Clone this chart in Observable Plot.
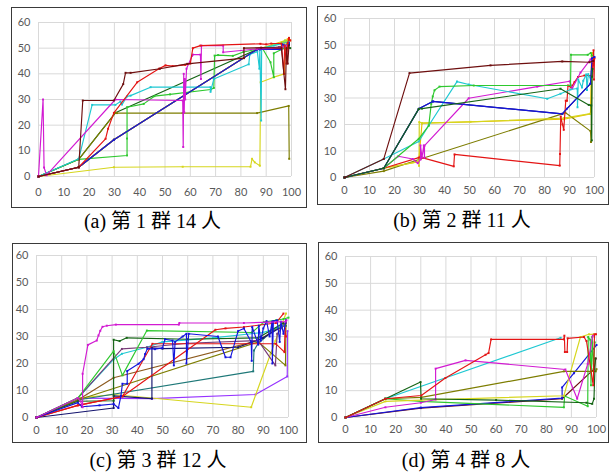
<!DOCTYPE html>
<html><head><meta charset="utf-8">
<script src="https://cdn.jsdelivr.net/npm/d3@7"></script>
<script src="https://cdn.jsdelivr.net/npm/@observablehq/plot@0.6"></script>
<style>
html,body{margin:0;padding:0;background:#fff;}
body{width:613px;height:472px;position:relative;overflow:hidden;}
.box{position:absolute;border:1.6px solid #3a3a3a;box-sizing:border-box;}
.plot{position:absolute;}
.cap{position:absolute;transform:translate(-50%,-50%);font-family:"Liberation Serif","Noto Sans CJK TC",serif;font-size:20px;color:#000;white-space:nowrap;}
</style>
</head><body>
<script>
// ---------- tick labels ----------
const xTicks = [0,10,20,30,40,50,60,70,80,90,100];
const yTicks = [0,10,20,30,40,50,60];
const captions = ["(a) 第 1 群 14 人","(b) 第 2 群 11 人","(c) 第 3 群 12 人","(d) 第 4 群 8 人"];

// ---------- group 1 (a) ----------
const a_navy = [[0,0],[15.9,3.6],[29.8,14.3],[86.4,49.5],[97,50],[98,49],[99,51.5]];
const a_orange = [[0,0],[15.9,3.6],[29.8,14.3],[86.4,49.5],[97,52],[98.5,53.5],[99.5,53]];
const a_gold = [[0,0],[15.9,3.6],[29.8,14.3],[86.4,49.5],[97.5,53],[98,52],[99,54]];
const a_lime = [[0,0],[15.9,3.6],[29.8,14.3],[86.4,49.5],[96,52],[97.5,53],[99,52.5]];
const a_darkgreen = [[0,0],[15.9,6.7],[30.4,24.8],[86.4,49.5],[96,50],[98,50.5],[99.5,50]];
const a_purple = [[0,0],[15.9,3.6],[29.8,14.3],[86.4,49.5],[95,50.5],[97,51],[98.5,50]];
const a_yellow = [[0,0],[29.8,3.6],[57,3.8],[83.8,3.8],[84.4,6.9],[85.5,5.5],[87.5,4.2],[87.8,36.7],[93,38.7],[97.2,40],[97.5,50],[99,53]];
const a_olive = [[0,0],[15.9,6.7],[30.4,24.8],[31,24.7],[57,24.7],[86.4,24.7],[98.9,27.5],[99.1,6.9]];
const a_green = [[0,0],[15.9,6.7],[35,8.2],[35,14.8],[35,27],[41.6,28.3],[45.8,31.3],[52,32],[68.1,33.9],[69.3,34.5],[69.6,47.1],[71,47.3],[76.8,47],[81,48.5],[88.5,50],[91.7,44.5],[93,38.7],[93,48],[97,50],[99,52.5]];
const a_cyan = [[0,0],[15.9,6.9],[21.2,27.9],[30.4,27.9],[32.4,29.2],[33,28],[35,31.2],[36.4,31.5],[44.3,34.8],[68,34.8],[68,33],[69.3,38],[83.1,43.7],[83.5,47.5],[86.5,48.7],[87.3,42],[87.5,49.5],[88,21.8],[88.2,50],[93,51],[99,52.5]];
const a_blue = [[0,0],[15.9,3.6],[29.8,14.3],[86.4,49.5],[87.5,49.5],[96,49.5],[96.2,51.5],[98.5,51],[99,52]];
const a_magenta = [[0,0],[1.8,30],[2.2,3.5],[3.2,0.5],[30.4,30],[57,29.6],[57.2,11.5],[57.4,40],[57.6,25],[57.8,38],[58,30],[58.5,42],[60.7,47],[61,47.5],[64,47.5],[64.2,38],[64.4,51],[73,51],[73,48.4],[86.4,49.7],[96,50],[98,51]];
const a_red = [[0,0],[15.9,3.6],[26.5,14.7],[27.5,18.6],[29.8,24.8],[39,36.7],[47.6,42],[50.2,43.3],[53,43],[58,43.5],[60,44],[61,50],[64,51],[87.7,51.7],[90,51.5],[92,51.8],[96,51.8],[97,40],[97.3,51],[98,44],[98.5,52],[99,54],[99.5,53]];
const a_maroon = [[0,0],[15.9,3.6],[17.5,29.6],[29.8,29.6],[33.5,36],[34.4,40.4],[36.4,40.4],[48,42],[58.8,43.9],[81.2,46.1],[81.2,50],[88,50.2],[96,50],[97.6,34],[98,50],[98.5,44],[99,51]];
const seriesA = [["navy",a_navy],["orange",a_orange],["gold",a_gold],["lime",a_lime],["darkgreen",a_darkgreen],["purple",a_purple],
  ["yellow",a_yellow],["olive",a_olive],["green",a_green],["cyan",a_cyan],["blue",a_blue],["magenta",a_magenta],["red",a_red],["maroon",a_maroon]];

// ---------- group 2 (b) ----------
const b_navy = [[0,0],[15.7,3.5],[29.7,25.9],[35.3,28.7],[87.1,24],[98.4,35.4],[99,43]];
const b_gold = [[0,0],[15.7,3.5],[29.7,6],[31,20.5],[87.7,22],[98.4,24],[98.8,46],[99.2,47]];
const b_olive = [[0,0],[15.7,2.4],[30.4,7],[87.1,24],[88.3,24.5],[98.4,17.5],[98.6,13.4],[99,42]];
const b_yellow = [[0,0],[15.7,3.5],[29.7,6],[29.8,4.4],[29.9,20.9],[31,20.5],[50.4,21],[87.7,22.4],[98.4,24.1]];
const b_red = [[0,0],[15.7,3.5],[29.7,7.5],[30.5,8],[31,7.5],[43.7,4.2],[44,8.7],[86.1,4.5],[86.2,8.9],[86.5,23],[87.2,20],[87.7,18],[88.5,29],[89,29],[89.4,34.7],[90.7,34],[92,36],[93.4,37.9],[96,38.5],[99,38.5],[99.6,48],[99.8,37],[100,45]];
const b_magenta = [[0,0],[15.7,3.5],[21.5,8],[27.3,7],[29.3,5.4],[30.4,6.8],[30.4,12.1],[31,7.5],[31.7,12.1],[32,7.5],[32,12],[49.7,29.9],[77.1,34.3],[90.1,36.3],[91.1,33.6],[94.4,39.6],[98.4,44.6],[99,44]];
const b_cyan = [[0,0],[15.7,7],[29.7,13.6],[33.7,19.6],[45,36.2],[49.7,35.1],[81.1,29.7],[86.4,31.6],[90.4,33.2],[93.1,33.6],[93.2,26.5],[93.5,37],[95,34],[95.5,36.5],[96.7,38.9],[97,33],[97.5,39],[98.5,37],[99,40]];
const b_green = [[0,0],[15.7,3.5],[29.7,14.6],[33.7,19.6],[34.7,27.8],[35.3,30.6],[36,32.9],[38,34.3],[51.7,34.7],[90.4,34.7],[90.6,46.3],[97.3,46.3],[98.5,47],[99,46]];
const b_blue = [[0,0],[15.7,3.5],[29.7,25.9],[35.3,28.7],[87.1,24],[89,26],[98.4,35.4],[99,45],[100,45.5]];
const b_darkgreen = [[0,0],[15.7,3.5],[29.7,25.9],[31,26],[86.4,33.5],[97.7,27.4],[98.7,27.2],[98.9,14],[99,38],[99.2,41]];
const b_maroon = [[0,0],[15.7,7],[26,39.4],[58.4,42.3],[87.1,43.8],[98,43.5],[99.5,44]];
const seriesB = [["navy",b_navy],["gold",b_gold],["olive",b_olive],["yellow",b_yellow],["red",b_red],["magenta",b_magenta],
  ["cyan",b_cyan],["green",b_green],["blue",b_blue],["darkgreen",b_darkgreen],["maroon",b_maroon]];

// ---------- group 3 (c) ----------
const c_violet = [[0,0],[16.4,7.2],[45.8,7],[86.9,8.5],[99.5,15.2],[99.6,32]];
const c_yellow = [[0,0],[16.4,7.2],[30.6,8.5],[85.2,3.8],[92.9,23.6],[94.8,28.4],[99,38.5]];
const c_teal = [[0,0],[16.4,6.5],[86,17.1],[86.3,24.8],[88,27.5],[95,33],[99,34]];
const c_olive = [[0,0],[16.4,6.5],[88,28],[98.8,19.3],[99,35]];
const c_brown = [[0,0],[16.4,6.5],[30.6,14.7],[88,28.5],[99,35]];
const c_navy = [[0,0],[30.6,3.5],[30.6,8],[45.8,7],[45.8,25.8],[50,25.5],[80,26],[90,29.5],[98,34]];
const c_cyan = [[0,0],[16.4,7.2],[30.6,21.5],[33.9,23.6],[43.8,26],[50,28],[70,29.5],[90,31.5],[98,34]];
const c_purple = [[0,0],[16.4,7.2],[33.9,25.4],[43.8,26],[60,27.5],[88,28.5],[94.8,19.3],[95.5,31],[99,35]];
const c_darkgreen = [[0,0],[16.4,6],[30.6,6.2],[30.6,28.8],[33,28.3],[35.8,29.5],[60,29],[88,29.5],[98,35]];
const c_green = [[0,0],[16.4,7.2],[30.6,24.6],[34.1,15.6],[43.8,32.2],[85.5,31.5],[90.2,35.3],[95,36],[98,36.5],[100,37]];
const c_red = [[0,0],[16.4,4.5],[34.1,7.8],[71,32.5],[75,33],[82.3,33.5],[95,35],[98,38.5]];
const c_red2 = [[0,0],[16.4,4.5],[34.1,7.8],[46,27.3],[95,27.3],[98.4,24.2],[98.6,33],[99,30]];
const c_blue = [[0,0],[16.4,5.5],[18,4],[25,4.5],[30.6,5],[32.5,3.5],[33.5,8],[34.1,12.5],[36,12.5],[36,17.2],[40.5,19.9],[42.5,21.6],[43.1,23.5],[44,25.5],[47,25.3],[50,25.8],[51,29],[54,28.5],[54.5,19.3],[55,28],[58,30],[59.5,31],[59.5,20],[60.4,31],[72,30],[75,22.3],[77,22.3],[80,32],[82.3,33],[85.2,28],[85.4,21],[85.6,33.5],[88,27],[88.2,34],[89,28.5],[90,33],[91.3,35.7],[92.5,30],[93.5,35.5],[93.6,20],[94,35.7],[95.5,36],[96.5,28],[97,35.5],[98,31],[99,36]];
const c_magenta = [[0,0],[16.4,7.2],[17.5,6],[18.3,3.8],[18.3,16.2],[20.4,26.9],[23.9,28.5],[24.6,30.4],[25.3,32.1],[26.2,33.6],[27.9,34],[31.5,34.4],[56.5,34.4],[56.7,35],[82.3,35],[98.8,35.5],[99.2,36]];
const seriesC = [["violet",c_violet],["yellow",c_yellow],["teal",c_teal],["olive",c_olive],["brown",c_brown],["navy",c_navy],["cyan",c_cyan],
  ["purple",c_purple],["darkgreen",c_darkgreen],["green",c_green],["red",c_red],["red",c_red2],["blue",c_blue],["magenta",c_magenta]];

// ---------- group 4 (d) ----------
const d_maroon = [[0,0],[30,3.5],[86.3,7],[99,18],[99.7,22]];
const d_blue = [[0,0],[30,3.7],[86.3,7.2],[86.3,11.2],[91,16.5],[100,27]];
const d_green = [[0,0],[15.9,7],[30,6],[87,3.8],[87.3,8],[96.5,4.2],[96.7,30],[97.5,29],[97.8,12],[98.3,30],[98.8,18],[99.3,28]];
const d_yellow = [[0,0],[15.9,6],[30.2,6.5],[87,8.1],[93.6,30],[97,31],[98.9,31]];
const d_olive = [[0,0],[15.9,7],[30.2,7.5],[87,17.2],[99.7,17.2],[100,18]];
const d_cyan = [[0,0],[15.9,7],[85.7,29.7]];
const d_magenta = [[0,0],[15.9,3.8],[30,5.5],[35.9,6.7],[35.9,18.2],[47.8,21.3],[87.6,17.9],[92.3,7],[96.5,20],[98.5,30.5]];
const d_darkgreen = [[0,0],[15.9,7],[29.9,13.2],[30.1,7],[60,6.5],[96,5.5],[98.3,5.1],[99,7],[99.5,22]];
const d_red = [[0,0],[15.9,7],[30.2,8.2],[39.8,14.7],[55.8,23.4],[57,24],[58,29.1],[87,29.1],[87.2,30.5],[87.4,24.4],[88.3,24.4],[88.5,29.5],[95,30],[96,28.5],[98.7,12],[99.2,31],[99.8,31]];
const seriesD = [["maroon",d_maroon],["blue",d_blue],["green",d_green],["yellow",d_yellow],["olive",d_olive],["cyan",d_cyan],
  ["magenta",d_magenta],["darkgreen",d_darkgreen],["red",d_red]];

// ---------- styles & layout ----------
const COLORS = {magenta:"#d21ad2", maroon:"#6e0f0f", red:"#e41414", cyan:"#1ec8d2", green:"#2ec82e", olive:"#7d7d00",
  yellow:"#d6d61e", blue:"#1414dc", navy:"#14146e", orange:"#ff9a00", gold:"#e6c000", lime:"#8ce63c",
  darkgreen:"#146414", purple:"#783c78", teal:"#1e7878", violet:"#9632ff", brown:"#8c5a1e"};

const layout = [
  {series: seriesA, box:[11,7,307,208], plot:[38,22,291,176], padX:12, cap:[152.5,218.5]},
  {series: seriesB, box:[317,6,609,205], plot:[344,18,594,177], padX:9, cap:[462,217.5]},
  {series: seriesC, box:[12,243,307,443], plot:[36,255,288,417], padX:9, cap:[158,457.5]},
  {series: seriesD, box:[318,242,609,443], plot:[345,256,596,417], padX:8, cap:[466,457.5]}
];

layout.forEach((L, i) => {
  const [bx0,by0,bx1,by1] = L.box, [px0,py0,px1,py1] = L.plot;
  const marks = [
    Plot.gridX(xTicks, {stroke:"#d9d9d9", strokeOpacity:1, strokeWidth:1}),
    Plot.gridY(yTicks, {stroke:"#d9d9d9", strokeOpacity:1, strokeWidth:1}),
    Plot.axisX(xTicks, {tickSize:0, tickPadding:L.padX, label:null}),
    Plot.axisY(yTicks, {tickSize:0, tickPadding:8, label:null})
  ];
  for (const [name, pts] of L.series) {
    marks.push(Plot.line(pts, {x:d=>d[0], y:d=>d[1], stroke:COLORS[name], strokeWidth:1.15}));
    marks.push(Plot.dot(pts, {x:d=>d[0], y:d=>d[1], r:1.1, fill:COLORS[name], symbol:"square"}));
  }
  const svg = Plot.plot({
    width: bx1-bx0, height: by1-by0,
    marginLeft: px0-bx0, marginRight: bx1-px1, marginTop: py0-by0, marginBottom: by1-py1,
    x:{domain:[0,100]}, y:{domain:[0,60]},
    style:{fontFamily:"Lato, 'Liberation Sans', sans-serif", fontSize:"11px", color:"#595959", background:"transparent"},
    marks
  });
  const wrap = document.createElement("div");
  wrap.className = "plot";
  wrap.style.left = bx0 + "px"; wrap.style.top = by0 + "px";
  wrap.appendChild(svg);
  document.body.appendChild(wrap);
  const box = document.createElement("div");
  box.className = "box";
  box.style.left = bx0 + "px"; box.style.top = by0 + "px";
  box.style.width = (bx1-bx0) + "px"; box.style.height = (by1-by0) + "px";
  document.body.appendChild(box);
  const cap = document.createElement("div");
  cap.className = "cap";
  cap.style.left = L.cap[0] + "px"; cap.style.top = L.cap[1] + "px";
  cap.textContent = captions[i];
  document.body.appendChild(cap);
});
</script>
</body></html>
